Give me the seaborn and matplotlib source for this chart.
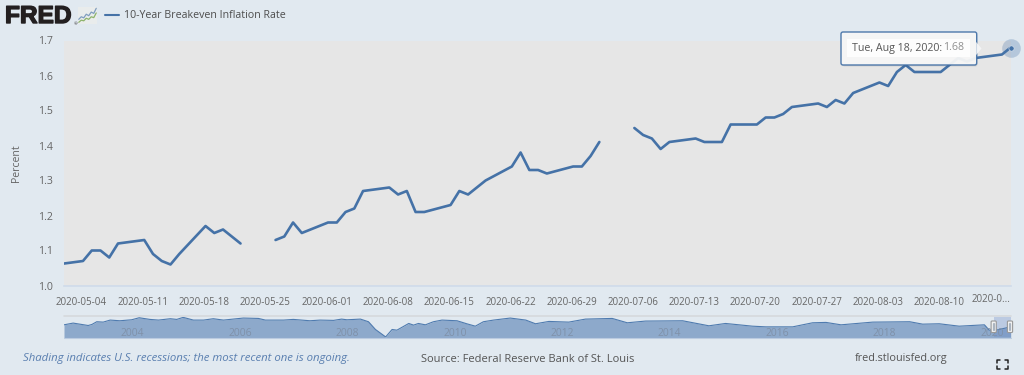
import numpy as np
import pandas as pd
import seaborn as sns

import matplotlib.pyplot as plt
import matplotlib.patheffects as pe
from matplotlib.lines import Line2D
from matplotlib.patches import FancyBboxPatch, Polygon, Rectangle

W = 1024; H = 375

BG = "#E1E9F0"; PLOT_BG = "#E6E6E6"; BLUE = "#4572A7"; GREY = "#666666"

SERIES_NAME = "10-Year Breakeven Inflation Rate"

# business days, None = no value published
DATES = ["2020-05-01", "2020-05-04", "2020-05-05", "2020-05-06", "2020-05-07", "2020-05-08",
         "2020-05-11", "2020-05-12", "2020-05-13", "2020-05-14", "2020-05-15",
         "2020-05-18", "2020-05-19", "2020-05-20", "2020-05-21", "2020-05-22",
         "2020-05-25", "2020-05-26", "2020-05-27", "2020-05-28", "2020-05-29",
         "2020-06-01", "2020-06-02", "2020-06-03", "2020-06-04", "2020-06-05",
         "2020-06-08", "2020-06-09", "2020-06-10", "2020-06-11", "2020-06-12",
         "2020-06-15", "2020-06-16", "2020-06-17", "2020-06-18", "2020-06-19",
         "2020-06-22", "2020-06-23", "2020-06-24", "2020-06-25", "2020-06-26",
         "2020-06-29", "2020-06-30", "2020-07-01", "2020-07-02", "2020-07-03",
         "2020-07-06", "2020-07-07", "2020-07-08", "2020-07-09", "2020-07-10",
         "2020-07-13", "2020-07-14", "2020-07-15", "2020-07-16", "2020-07-17",
         "2020-07-20", "2020-07-21", "2020-07-22", "2020-07-23", "2020-07-24",
         "2020-07-27", "2020-07-28", "2020-07-29", "2020-07-30", "2020-07-31",
         "2020-08-03", "2020-08-04", "2020-08-05", "2020-08-06", "2020-08-07",
         "2020-08-10", "2020-08-11", "2020-08-12", "2020-08-13", "2020-08-14",
         "2020-08-17", "2020-08-18"]
VALUES = [1.06, 1.07, 1.10, 1.10, 1.08, 1.12,
          1.13, 1.09, 1.07, 1.06, 1.09,
          1.17, 1.15, 1.16, 1.14, 1.12,
          None, 1.13, 1.14, 1.18, 1.15,
          1.18, 1.18, 1.21, 1.22, 1.27,
          1.28, 1.26, 1.27, 1.21, 1.21,
          1.23, 1.27, 1.26, 1.28, 1.30,
          1.34, 1.38, 1.33, 1.33, 1.32,
          1.34, 1.34, 1.37, 1.41, None,
          1.45, 1.43, 1.42, 1.39, 1.41,
          1.42, 1.41, 1.41, 1.41, 1.46,
          1.46, 1.48, 1.48, 1.49, 1.51,
          1.52, 1.51, 1.53, 1.52, 1.55,
          1.58, 1.57, 1.61, 1.63, 1.61,
          1.61, 1.63, 1.65, 1.64, 1.65,
          1.66, 1.68]

TICK_DATES = ["2020-05-04", "2020-05-11", "2020-05-18", "2020-05-25", "2020-06-01", "2020-06-08",
              "2020-06-15", "2020-06-22", "2020-06-29", "2020-07-06", "2020-07-13", "2020-07-20",
              "2020-07-27", "2020-08-03", "2020-08-10", "2020-08-17"]
Y_TICKS = [1.0, 1.1, 1.2, 1.3, 1.4, 1.5, 1.6, 1.7]

# whole history for the navigator strip
NAV_YEARS = [2003.00, 2003.17, 2003.45, 2003.52, 2003.61, 2003.73, 2003.86, 2004.04, 2004.26, 2004.40,
             2004.60, 2004.76, 2004.98, 2005.10, 2005.22, 2005.41, 2005.60, 2005.78, 2005.97, 2006.34,
             2006.62, 2006.75, 2007.09, 2007.27, 2007.58, 2007.77, 2008.02, 2008.17, 2008.27, 2008.52,
             2008.67, 2008.80, 2008.99, 2009.11, 2009.20, 2009.42, 2009.51, 2009.60, 2009.73, 2009.88,
             2010.04, 2010.32, 2010.50, 2010.66, 2010.81, 2011.00, 2011.31, 2011.60, 2011.78, 2012.03,
             2012.40, 2012.71, 2013.21, 2013.49, 2013.83, 2014.52, 2015.01, 2015.32, 2015.82, 2016.07,
             2016.57, 2016.94, 2017.19, 2017.47, 2018.06, 2018.75, 2018.99, 2019.30, 2019.67, 2020.14,
             2020.23, 2020.36, 2020.63]
NAV_VALUES = [1.71, 1.94, 1.62, 1.76, 2.12, 2.07, 2.34, 2.25, 2.38, 2.65,
              2.43, 2.34, 2.52, 2.43, 2.70, 2.34, 2.34, 2.52, 2.34, 2.61,
              2.56, 2.34, 2.34, 2.43, 2.25, 2.34, 2.30, 2.47, 2.38, 2.47,
              2.12, 1.09, 0.10, 1.09, 1.00, 1.89, 1.67, 1.89, 1.71, 2.12,
              2.34, 2.25, 1.85, 1.53, 2.12, 2.34, 2.61, 2.34, 1.85, 2.16,
              2.07, 2.47, 2.56, 1.98, 2.21, 2.25, 1.58, 1.89, 1.53, 1.44,
              1.44, 1.98, 2.03, 1.71, 2.07, 2.12, 1.80, 1.85, 1.53, 1.71,
              1.00, 1.00, 1.44]
NAV_TICKS = [2004, 2006, 2008, 2010, 2012, 2014, 2016, 2018, 2020]

ICON_X = [0, 1, 2, 3, 4, 5, 6, 7]
ICON_BLUE = [2.2, 3.4, 2.9, 4.6, 3.9, 5.6, 5.0, 7.4]
ICON_GREEN = [0.8, 1.8, 1.5, 2.7, 2.2, 3.4, 3.0, 5.2]


def box(x0, y0, x1, y1):
    return [x0 / W, 1 - y1 / H, (x1 - x0) / W, (y1 - y0) / H]


sns.set_theme(style = "white", rc = {"figure.facecolor": BG, "savefig.facecolor": BG})
plt.rcParams["font.family"] = ["Open Sans", "DejaVu Sans"]

df = pd.DataFrame({"date": pd.to_datetime(DATES), "value": pd.to_numeric(pd.Series(VALUES), errors = "coerce")})
df["segment"] = df["value"].isna().cumsum()
df = df.dropna()

fig = plt.figure(figsize = (W / 100, H / 100), dpi = 100)

# main chart
ax = fig.add_axes(box(64, 40.5, 1010.7, 285.5))
ax.set_facecolor(PLOT_BG)
sns.lineplot(data = df, x = "date", y = "value", units = "segment", estimator = None,
             color = BLUE, linewidth = 1.9, ax = ax, legend = False)
ax.set_xlim(pd.Timestamp("2020-05-04") - pd.Timedelta(days = 2.17), pd.Timestamp("2020-08-18"))
ax.set_ylim(1.0, 1.7)
ax.set_xlabel(""); ax.set_ylabel("")

# tick marks sit a little left of the points, as in the original
ticks = pd.to_datetime(TICK_DATES) - pd.Timedelta(hours = 4)
ax.set_xticks(ticks)
ax.set_xticklabels(TICK_DATES[:-1] + [""])
ax.set_yticks(Y_TICKS)
ax.set_yticklabels([f"{v:.1f}" for v in Y_TICKS])
ax.tick_params(axis = "x", length = 4, width = 0.8, color = "#CFDBEA", labelsize = 7, labelcolor = GREY, pad = 4)
ax.tick_params(axis = "y", length = 0, labelsize = 7.6, labelcolor = GREY, pad = 8)
for side in ["top", "left", "right"]:
    ax.spines[side].set_visible(False)
ax.spines["bottom"].set_color("#CFDBEA")
ax.spines["bottom"].set_linewidth(1.2)

# hover marker on the last value
last = df.iloc[-1]
sns.scatterplot(x = [last["date"]], y = [last["value"]], s = 180, color = BLUE, alpha = 0.28,
                linewidth = 0, clip_on = False, zorder = 5, ax = ax, legend = False)
sns.scatterplot(x = [last["date"]], y = [last["value"]], s = 14, color = BLUE, edgecolor = "#DCE6F0",
                linewidth = 0.4, clip_on = False, zorder = 6, ax = ax, legend = False)

# navigator
nav = fig.add_axes(box(64, 317, 1010.7, 337.3))
nav.set_facecolor(BG)
nav.fill_between(NAV_YEARS, NAV_VALUES, 0, color = "#8DA9CB", linewidth = 0)
sns.lineplot(x = NAV_YEARS, y = NAV_VALUES, color = "#4F7BAF", linewidth = 0.8, ax = nav, legend = False)
nav.axvspan(2020.31, 2020.63, color = "#6685C2", alpha = 0.3, linewidth = 0)
nav.set_xlim(2003.0, 2020.63)
nav.set_ylim(0.05, 2.75)
nav.set_xticks([]); nav.set_yticks([])
nav.set_xlabel(""); nav.set_ylabel("")
for spine in nav.spines.values():
    spine.set_visible(False)
for yr in NAV_TICKS:
    nav.text(yr + 0.06, 0.62, str(yr), fontsize = 7.4, color = "#7F91A9", ha = "left", va = "center")

# everything else is placed in pixels
over = fig.add_axes([0, 0, 1, 1])
over.set_xlim(0, W); over.set_ylim(H, 0)
over.axis("off")
over.patch.set_alpha(0)

over.add_line(Line2D([64, 1010.7], [315.6, 315.6], color = "#D6D9DC", linewidth = 1.2))
over.add_line(Line2D([64, 1010.7], [337.6, 337.6], color = "#BBCBE0", linewidth = 0.8))
for x in [993.7, 1010]:
    over.add_patch(FancyBboxPatch((x - 2.6, 321), 5.2, 11.5, boxstyle = "round,pad=0,rounding_size=1",
                                  facecolor = "#F2F2F2", edgecolor = "#999999", linewidth = 0.8, zorder = 6))
    over.add_line(Line2D([x, x], [323.5, 330], color = "#AAB4C0", linewidth = 1.6, zorder = 7))

# logo and legend
logo = over.text(5, 16.5, "FRED", fontsize = 17.6, fontweight = "bold", family = "Liberation Sans",
                 color = "#231F20", ha = "left", va = "center")
logo.set_path_effects([pe.withStroke(linewidth = 1.0, foreground = "#231F20")])
over.text(76, 24, "®", fontsize = 3.2, color = "#231F20", ha = "center", va = "center")

icon = fig.add_axes(box(78, 7, 97, 24))
icon.set_facecolor("#E9ECEC")
sns.lineplot(x = ICON_X, y = ICON_BLUE, color = "#7F9DBE", linewidth = 0.9, ax = icon, legend = False)
sns.lineplot(x = ICON_X, y = ICON_GREEN, color = "#8DB36B", linewidth = 0.9, ax = icon, legend = False)
icon.set_xlim(-0.3, 7.3); icon.set_ylim(0, 8)
icon.set_xticks([]); icon.set_yticks([])
icon.set_xlabel(""); icon.set_ylabel("")
for spine in icon.spines.values():
    spine.set_visible(False)

over.add_line(Line2D([105, 119], [15, 15], color = BLUE, linewidth = 1.5))
over.text(124, 15.5, SERIES_NAME, fontsize = 7.7, color = "#4D4D4D", ha = "left", va = "center")

over.text(17, 163, "Percent", fontsize = 7.6, color = GREY, rotation = 90, ha = "center", va = "center")
over.text(991, 300, "2020-0...", fontsize = 7, color = GREY, ha = "center", va = "center")

# tooltip
over.add_patch(FancyBboxPatch((842.5, 33.5), 135, 33, boxstyle = "round,pad=0,rounding_size=2",
                              facecolor = "#000000", alpha = 0.08, linewidth = 0, zorder = 3))
over.add_patch(Polygon([[976.2, 42], [981.5, 48.5], [976.2, 55]], closed = True,
                       facecolor = "#F4F5F6", edgecolor = "none", alpha = 0.97, zorder = 4.2))
over.add_patch(FancyBboxPatch((841, 32), 135.7, 33, boxstyle = "round,pad=0,rounding_size=2",
                              facecolor = "#F7F7F7", edgecolor = BLUE, alpha = 0.95, linewidth = 1.0, zorder = 4))
over.add_patch(Rectangle((847, 39), 122.5, 18, facecolor = "white", alpha = 0.85, linewidth = 0, zorder = 4.5))
over.text(851.5, 48, "Tue, Aug 18, 2020: ", fontsize = 7.7, color = "#555555", ha = "left", va = "center", zorder = 5)
over.text(964.5, 48, f"{VALUES[-1]:.2f}", fontsize = 7.7, color = "#8F8F8F", ha = "right", va = "center", zorder = 5)

# footer
over.text(23, 359, "Shading indicates U.S. recessions; the most recent one is ongoing.", fontsize = 8.2,
          style = "italic", color = "#5A7FB0", ha = "left", va = "center")
over.text(421, 359, "Source: Federal Reserve Bank of St. Louis", fontsize = 8.05, color = "#555555", ha = "left", va = "center")
over.text(854.5, 359, "fred.stlouisfed.org", fontsize = 7.85, color = "#555555", ha = "left", va = "center")

# full screen icon
for cx, cy, dx, dy in [(997, 360, 1, 1), (1008, 360, -1, 1), (997, 369, 1, -1), (1008, 369, -1, -1)]:
    over.add_line(Line2D([cx + 3 * dx, cx, cx], [cy, cy, cy + 3 * dy], color = "#222222", linewidth = 1.1))

plt.savefig("out.png", dpi = 100)
plt.close()
